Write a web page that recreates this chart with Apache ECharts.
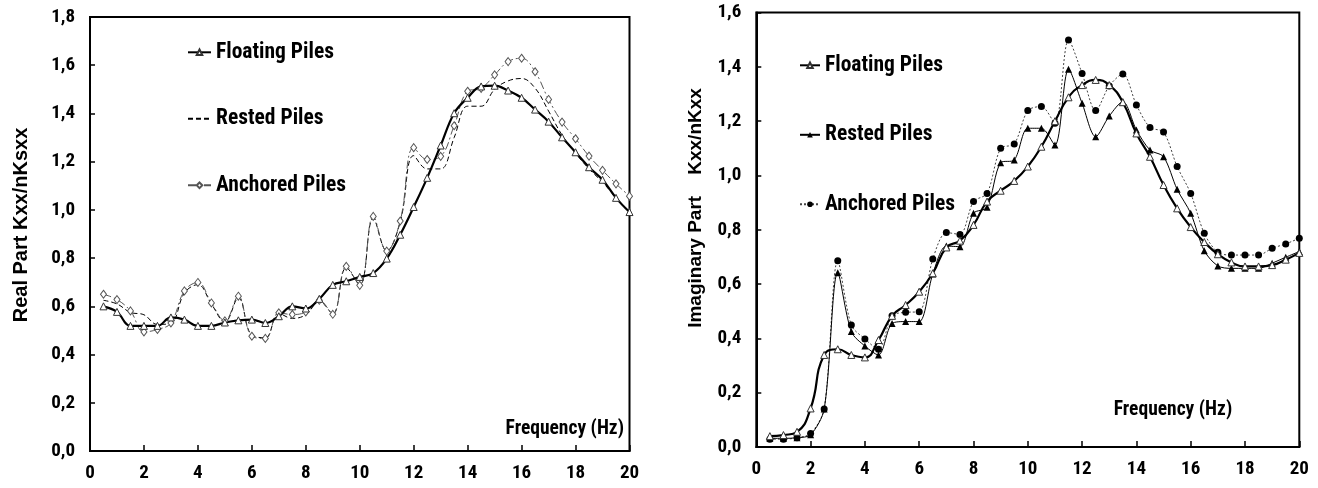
<!DOCTYPE html>
<html>
<head>
<meta charset="utf-8">
<script src="https://cdn.jsdelivr.net/npm/echarts@6/dist/echarts.min.js"></script>
<style>
  html, body { margin: 0; padding: 0; background: #fff; }
  #chart { width: 1318px; height: 488px; }
</style>
</head>
<body>
<div id="chart"></div>
<script>
// frequency steps (Hz)
const freq = [0.5, 1, 1.5, 2, 2.5, 3, 3.5, 4, 4.5, 5, 5.5, 6, 6.5, 7, 7.5, 8, 8.5, 9, 9.5, 10,
  10.5, 11, 11.5, 12, 12.5, 13, 13.5, 14, 14.5, 15, 15.5, 16, 16.5, 17, 17.5, 18, 18.5, 19, 19.5, 20]

// real part Kxx/nKsxx
const realFloating = [0.600, 0.577, 0.519, 0.519, 0.519, 0.554, 0.545, 0.519, 0.519, 0.533, 0.542, 0.545, 0.531, 0.559, 0.600, 0.591, 0.631, 0.689, 0.704, 0.722,
  0.738, 0.798, 0.897, 1.012, 1.133, 1.267, 1.401, 1.465, 1.512, 1.515, 1.495, 1.465, 1.416, 1.366, 1.301, 1.239, 1.177, 1.125, 1.050, 0.991]
const realRested = [0.625, 0.610, 0.575, 0.565, 0.525, 0.530, 0.655, 0.690, 0.610, 0.535, 0.635, 0.480, 0.470, 0.570, 0.550, 0.565, 0.620, 0.570, 0.760, 0.690,
  0.965, 0.830, 0.950, 1.225, 1.170, 1.170, 1.300, 1.430, 1.430, 1.500, 1.535, 1.545, 1.505, 1.410, 1.310, 1.235, 1.170, 1.115, 1.050, 0.990]
const realAnchored = [0.650, 0.628, 0.581, 0.494, 0.504, 0.531, 0.664, 0.699, 0.614, 0.540, 0.642, 0.476, 0.467, 0.573, 0.566, 0.577, 0.625, 0.567, 0.766, 0.687,
  0.973, 0.829, 0.954, 1.258, 1.209, 1.222, 1.349, 1.492, 1.504, 1.560, 1.615, 1.629, 1.573, 1.458, 1.364, 1.295, 1.223, 1.164, 1.108, 1.057]

// imaginary part Kxx/nKxx
const imagFloating = [0.040, 0.044, 0.056, 0.142, 0.339, 0.360, 0.339, 0.330, 0.394, 0.483, 0.523, 0.572, 0.640, 0.735, 0.760, 0.818, 0.904, 0.944, 0.980, 1.033,
  1.106, 1.200, 1.288, 1.333, 1.352, 1.333, 1.270, 1.155, 1.069, 0.965, 0.879, 0.810, 0.755, 0.710, 0.680, 0.665, 0.665, 0.670, 0.690, 0.715]
const imagRested = [0.032, 0.032, 0.034, 0.045, 0.140, 0.642, 0.425, 0.372, 0.339, 0.455, 0.462, 0.462, 0.637, 0.740, 0.738, 0.861, 0.883, 1.047, 1.057, 1.174,
  1.174, 1.112, 1.391, 1.266, 1.143, 1.219, 1.272, 1.168, 1.094, 1.069, 0.949, 0.861, 0.723, 0.667, 0.658, 0.658, 0.658, 0.677, 0.699, 0.720]
const imagAnchored = [0.029, 0.029, 0.034, 0.050, 0.140, 0.686, 0.449, 0.398, 0.360, 0.483, 0.496, 0.498, 0.692, 0.790, 0.783, 0.904, 0.934, 1.100, 1.116, 1.239,
  1.254, 1.192, 1.499, 1.376, 1.239, 1.330, 1.374, 1.260, 1.177, 1.160, 1.033, 0.934, 0.787, 0.717, 0.707, 0.707, 0.707, 0.732, 0.748, 0.769]

const xTicks = [0, 2, 4, 6, 8, 10, 12, 14, 16, 18, 20]
const names = ['Floating Piles', 'Rested Piles', 'Anchored Piles']

const sans = '"Liberation Sans", Arial, sans-serif'
const narrow = '"Roboto Condensed", "Liberation Sans", sans-serif'
const pairs = vals => freq.map((f, i) => [f, vals[i]])
const comma = v => v.toFixed(1).replace('.', ',')

const chart = echarts.init(document.getElementById('chart'))

const xAxisBase = idx => ({
  type: 'value',
  gridIndex: idx,
  min: xTicks[0],
  max: xTicks[xTicks.length - 1],
  interval: 2,
  axisLine: { lineStyle: { color: '#000', width: 2 } },
  axisTick: { inside: true, length: 6, lineStyle: { color: '#000', width: 1.5 } },
  axisLabel: { color: '#000', fontFamily: narrow, fontWeight: 'bold', fontSize: 19, margin: 13 },
  splitLine: { show: false }
})

const yAxisBase = (idx, max) => ({
  type: 'value',
  gridIndex: idx,
  min: 0,
  max: max,
  interval: 0.2,
  axisLine: { show: true, lineStyle: { color: '#000', width: 2 } },
  axisTick: { show: true, inside: true, length: 5, lineStyle: { color: '#000', width: 1.5 } },
  axisLabel: { color: '#000', fontFamily: narrow, fontWeight: 'bold', fontSize: 19, margin: 15, formatter: comma },
  splitLine: { show: false }
})

const legendBase = {
  orient: 'vertical',
  padding: 0,
  itemHeight: 7,
  textStyle: { color: '#000', fontFamily: narrow, fontWeight: 'bold', fontSize: 21.5 },
  selectedMode: false
}

const option = {
  animation: false,
  backgroundColor: '#fff',
  grid: [
    { left: 90, top: 17, width: 539.5, height: 434, show: true, borderColor: '#000', borderWidth: 2 },
    { left: 756.3, top: 12.6, width: 543, height: 434.4, show: true, borderColor: '#000', borderWidth: 2 }
  ],
  xAxis: [xAxisBase(0), xAxisBase(1)],
  yAxis: [yAxisBase(0, 1.8), yAxisBase(1, 1.6)],
  legend: [
    Object.assign({}, legendBase, { left: 187, top: 41.3, itemWidth: 23, itemGap: 44.5, data: names }),
    Object.assign({}, legendBase, {
      left: 799, top: 54.3, itemWidth: 20, itemGap: 47.5,
      data: names.map(n => n + '_r'),
      formatter: n => n.replace('_r', '')
    })
  ],
  series: [
    {
      name: names[1], type: 'line', xAxisIndex: 0, yAxisIndex: 0, smooth: 0.4,
      symbol: 'none', data: pairs(realRested),
      lineStyle: { color: '#000', width: 1, type: [5, 3] }, itemStyle: { color: '#000', opacity: 0 }
    },
    {
      name: names[2], type: 'line', xAxisIndex: 0, yAxisIndex: 0, smooth: 0.4,
      symbol: 'diamond', symbolSize: [6, 8], showAllSymbol: true, data: pairs(realAnchored),
      lineStyle: { color: '#555', width: 1, type: [8, 3, 2, 3] },
      itemStyle: { color: '#fff', borderColor: '#555', borderWidth: 1 }
    },
    {
      name: names[0], type: 'line', xAxisIndex: 0, yAxisIndex: 0, smooth: 0.4,
      symbol: 'triangle', symbolSize: 7, showAllSymbol: true, data: pairs(realFloating),
      lineStyle: { color: '#000', width: 2.2 },
      itemStyle: { color: '#fff', borderColor: '#333', borderWidth: 1 }
    },
    {
      name: names[2] + '_r', type: 'line', xAxisIndex: 1, yAxisIndex: 1, smooth: 0.3,
      symbol: 'circle', symbolSize: 7, showAllSymbol: true, data: pairs(imagAnchored),
      lineStyle: { color: '#444', width: 1, type: [2, 2] },
      itemStyle: { color: '#000' }
    },
    {
      name: names[1] + '_r', type: 'line', xAxisIndex: 1, yAxisIndex: 1, smooth: 0.3,
      symbol: 'triangle', symbolSize: 7, showAllSymbol: true, data: pairs(imagRested),
      lineStyle: { color: '#000', width: 1 },
      itemStyle: { color: '#000' }
    },
    {
      name: names[0] + '_r', type: 'line', xAxisIndex: 1, yAxisIndex: 1, smooth: 0.5,
      symbol: 'triangle', symbolSize: 7, showAllSymbol: true, data: pairs(imagFloating),
      lineStyle: { color: '#000', width: 2.2 },
      itemStyle: { color: '#fff', borderColor: '#333', borderWidth: 1 }
    }
  ],
  graphic: [
    {
      type: 'text', x: 624, y: 429,
      style: { text: 'Frequency (Hz)', align: 'right', verticalAlign: 'middle', fill: '#000',
        font: 'bold 19.5px ' + narrow }
    },
    {
      type: 'text', x: 1173, y: 410.5,
      style: { text: 'Frequency (Hz)', align: 'center', verticalAlign: 'middle', fill: '#000',
        font: 'bold 19.5px ' + narrow }
    },
    {
      type: 'text', x: 21, y: 225, rotation: Math.PI / 2,
      style: { text: 'Real Part Kxx/nKsxx', align: 'center', verticalAlign: 'middle', fill: '#000',
        font: 'bold 20px ' + sans }
    },
    {
      type: 'text', x: 696, y: 208, rotation: Math.PI / 2,
      style: { text: 'Imaginary Part    Kxx/nKxx', align: 'center', verticalAlign: 'middle', fill: '#000',
        font: 'bold 19px ' + sans }
    }
  ]
}

chart.setOption(option)
</script>
</body>
</html>
